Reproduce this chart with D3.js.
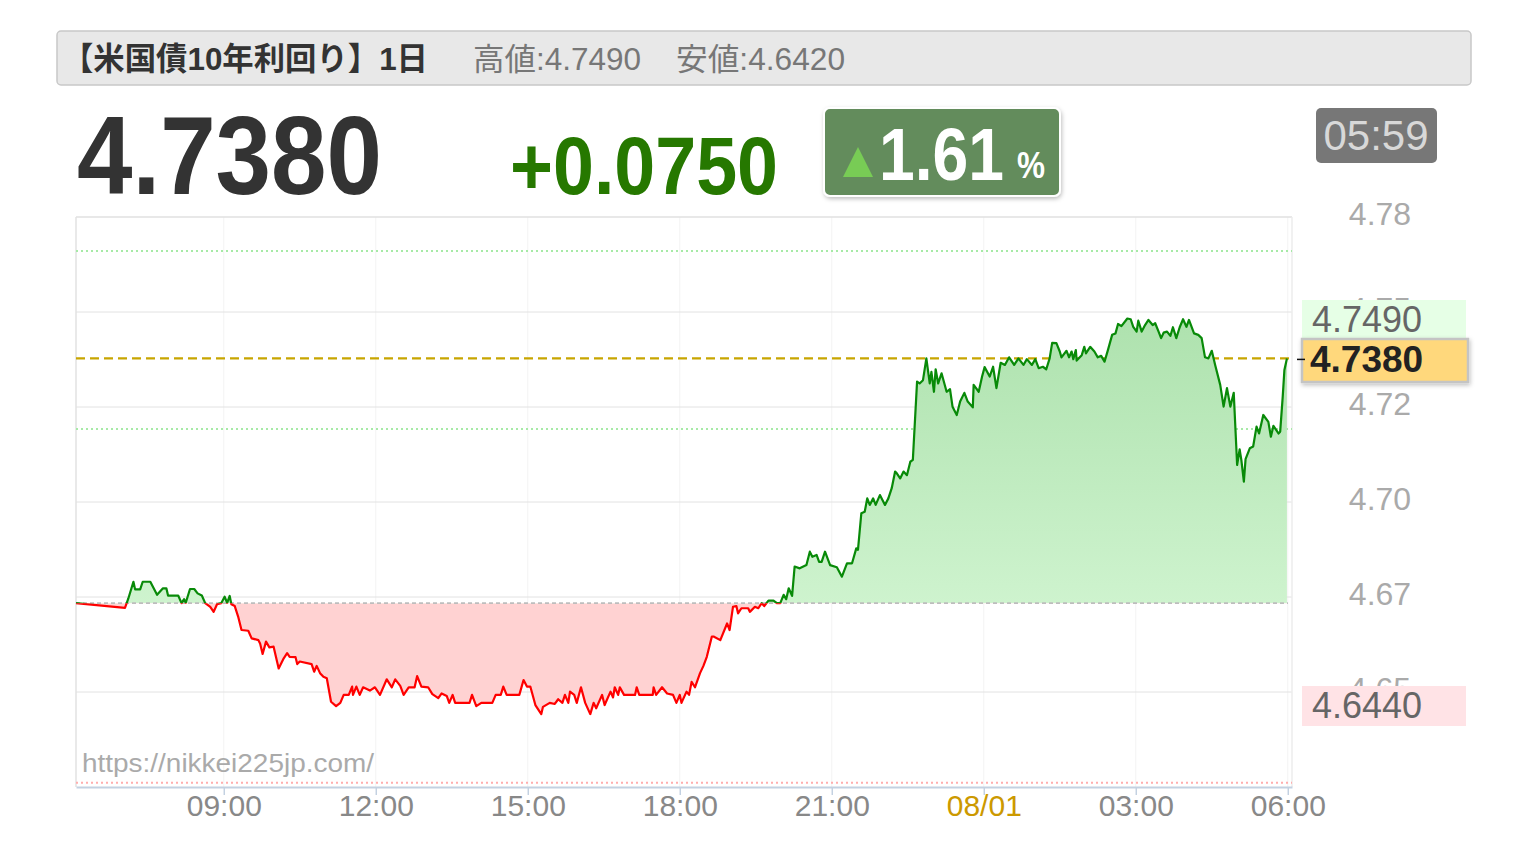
<!DOCTYPE html>
<html><head><meta charset="utf-8">
<script src="https://cdn.jsdelivr.net/npm/d3@7"></script>
<style>
body{margin:0;background:#fff;}
svg{display:block;font-family:"Liberation Sans",Arial,"Noto Sans CJK JP",sans-serif;}
</style>
</head><body>
<svg id="c" width="1528" height="848"></svg>
<script>
// ---- data ----
const titleText = "【米国債10年利回り】1日";
const highText = "高値:4.7490";
const lowText = "安値:4.6420";
const priceText = "4.7380";
const changeText = "+0.0750";
const pctText = "1.61";
const clockText = "05:59";
const highBoxText = "4.7490";
const lastBoxText = "4.7380";
const lowBoxText = "4.6440";
const watermark = "https://nikkei225jp.com/";
const lastValue = 4.7380;
const xStart = "06:05";
const xTickTimes = ["09:00","12:00","15:00","18:00","21:00","00:00","03:00","06:00"];
const xTickLabels = ["09:00","12:00","15:00","18:00","21:00","08/01","03:00","06:00"];
const yDomain = [4.6198, 4.7770];
const yTickValues = [4.7770, 4.7508, 4.7246, 4.6984, 4.6722, 4.6460];
const yTickLabels = ["4.78","4.75","4.72","4.70","4.67","4.65"];
const refGreen = [4.7676, 4.7185];
const refRed = [4.6210];
const times = ["06:05","07:03","07:07","07:13","07:15","07:21","07:24","07:33","07:41","07:48","07:52","07:54","08:06","08:10","08:13","08:15","08:20","08:25","08:29","08:34","08:38","08:44","08:48","08:52","08:57","09:01","09:04","09:07","09:09","09:13","09:17","09:21","09:29","09:33","09:41","09:43","09:46","09:50","09:54","09:59","10:05","10:11","10:15","10:18","10:25","10:27","10:30","10:44","10:47","10:50","10:54","10:58","11:02","11:07","11:13","11:18","11:22","11:28","11:32","11:33","11:37","11:41","11:45","11:53","11:59","12:05","12:13","12:19","12:23","12:29","12:33","12:39","12:46","12:49","12:54","13:02","13:07","13:14","13:18","13:24","13:27","13:31","13:34","13:51","13:54","13:59","14:05","14:18","14:22","14:28","14:31","14:35","14:50","14:55","14:59","15:03","15:09","15:16","15:18","15:26","15:32","15:36","15:41","15:44","15:48","15:50","15:55","15:58","16:03","16:08","16:14","16:18","16:21","16:28","16:31","16:38","16:41","16:43","16:47","16:49","16:54","17:07","17:09","17:12","17:28","17:29","17:32","17:39","17:45","17:52","17:56","18:00","18:02","18:08","18:11","18:14","18:18","18:24","18:28","18:32","18:38","18:40","18:48","18:56","18:59","19:03","19:07","19:09","19:13","19:21","19:23","19:29","19:33","19:37","19:40","19:45","19:51","19:55","19:59","20:03","20:06","20:09","20:13","20:16","20:22","20:30","20:34","20:37","20:42","20:45","20:48","20:52","20:58","21:06","21:12","21:18","21:24","21:29","21:31","21:35","21:39","21:42","21:45","21:49","21:52","21:57","22:03","22:07","22:11","22:15","22:17","22:21","22:25","22:29","22:33","22:36","22:41","22:44","22:48","22:52","22:56","22:58","23:01","23:03","23:06","23:10","23:16","23:20","23:23","23:28","23:32","23:37","23:41","23:47","23:48","23:54","23:58","00:01","00:07","00:11","00:15","00:20","00:25","00:30","00:36","00:41","00:47","00:51","00:57","01:01","01:05","01:10","01:14","01:18","01:21","01:26","01:30","01:32","01:38","01:41","01:44","01:46","01:49","01:50","01:56","01:59","02:01","02:06","02:11","02:15","02:19","02:23","02:27","02:32","02:36","02:39","02:43","02:50","02:54","02:57","03:01","03:03","03:07","03:11","03:15","03:20","03:23","03:27","03:30","03:33","03:37","03:41","03:44","03:48","03:52","03:56","04:00","04:03","04:09","04:14","04:18","04:22","04:26","04:30","04:34","04:40","04:44","04:48","04:52","04:56","04:59","05:00","05:03","05:05","05:08","05:10","05:15","05:19","05:23","05:26","05:31","05:37","05:40","05:43","05:49","05:51","05:54","05:56","05:59"];
const values = [4.6705,4.6692,4.6718,4.6764,4.6743,4.6743,4.6764,4.6764,4.6728,4.6746,4.6746,4.6726,4.6726,4.6705,4.6716,4.6706,4.6744,4.6744,4.6732,4.6726,4.6705,4.6695,4.6681,4.6702,4.6705,4.6723,4.6706,4.6725,4.6702,4.6697,4.6668,4.6631,4.6629,4.6608,4.6603,4.6594,4.6565,4.6599,4.6583,4.6585,4.6525,4.6553,4.6567,4.6557,4.6556,4.6537,4.6544,4.6537,4.6516,4.6532,4.6512,4.6502,4.6498,4.6433,4.6421,4.6430,4.6452,4.6452,4.6475,4.6452,4.6475,4.6452,4.6473,4.6464,4.6473,4.6452,4.6495,4.6473,4.6495,4.6477,4.6452,4.6473,4.6473,4.6504,4.6475,4.6473,4.6454,4.6443,4.6456,4.6449,4.6430,4.6452,4.6430,4.6430,4.6452,4.6421,4.6430,4.6430,4.6452,4.6452,4.6475,4.6452,4.6452,4.6493,4.6475,4.6475,4.6424,4.6399,4.6419,4.6430,4.6427,4.6440,4.6430,4.6452,4.6430,4.6461,4.6452,4.6430,4.6473,4.6430,4.6399,4.6430,4.6415,4.6452,4.6424,4.6461,4.6445,4.6473,4.6452,4.6473,4.6452,4.6452,4.6473,4.6452,4.6452,4.6473,4.6452,4.6473,4.6456,4.6452,4.6430,4.6452,4.6430,4.6461,4.6452,4.6488,4.6473,4.6512,4.6532,4.6557,4.6613,4.6613,4.6603,4.6649,4.6631,4.6695,4.6697,4.6677,4.6691,4.6691,4.6681,4.6695,4.6691,4.6705,4.6697,4.6712,4.6712,4.6705,4.6705,4.6728,4.6716,4.6746,4.6725,4.6806,4.6801,4.6810,4.6847,4.6833,4.6838,4.6819,4.6819,4.6847,4.6810,4.6804,4.6778,4.6815,4.6815,4.6856,4.6852,4.6953,4.6957,4.6994,4.6976,4.6994,4.6976,4.7003,4.6976,4.6994,4.7022,4.7068,4.7063,4.7049,4.7068,4.7058,4.7095,4.7100,4.7316,4.7311,4.7320,4.7380,4.7311,4.7343,4.7288,4.7350,4.7311,4.7339,4.7288,4.7295,4.7247,4.7224,4.7261,4.7285,4.7261,4.7245,4.7307,4.7288,4.7330,4.7356,4.7330,4.7357,4.7298,4.7368,4.7362,4.7383,4.7362,4.7380,4.7362,4.7378,4.7362,4.7378,4.7353,4.7357,4.7350,4.7380,4.7423,4.7422,4.7399,4.7383,4.7401,4.7383,4.7399,4.7378,4.7403,4.7374,4.7389,4.7412,4.7394,4.7412,4.7399,4.7383,4.7387,4.7371,4.7403,4.7445,4.7449,4.7475,4.7469,4.7490,4.7488,4.7467,4.7454,4.7484,4.7454,4.7472,4.7486,4.7472,4.7477,4.7454,4.7436,4.7451,4.7454,4.7442,4.7466,4.7436,4.7466,4.7488,4.7467,4.7486,4.7449,4.7445,4.7436,4.7383,4.7380,4.7401,4.7362,4.7307,4.7247,4.7298,4.7247,4.7285,4.7137,4.7086,4.7129,4.7100,4.7040,4.7102,4.7132,4.7137,4.7192,4.7173,4.7224,4.7205,4.7164,4.7194,4.7173,4.7178,4.7274,4.7348,4.7380];

// ---- helpers ----
const startMin = (s => +s.slice(0,2)*60 + +s.slice(3))(xStart);
function parseT(s, forceNext){
  const m = +s.slice(0,2)*60 + +s.slice(3);
  const day = (forceNext || m < startMin) ? 1 : 0;
  return new Date(2024, 6, 31 + day, Math.floor(m/60), m%60);
}
const data = times.map((t,i)=>({t:parseT(t), v:values[i]}));
const t0 = parseT(xStart), t1 = parseT(xStart, true);

const L = 76, R = 1292, T = 217, B = 787;
const x = d3.scaleTime().domain([t0,t1]).range([L,R]);
const y = d3.scaleLinear().domain(yDomain).range([B,T]);

const svg = d3.select("#c");
const defs = svg.append("defs");
const sh = defs.append("filter").attr("id","sh").attr("x","-10%").attr("y","-10%").attr("width","130%").attr("height","140%");
sh.append("feDropShadow").attr("dx",1).attr("dy",2).attr("stdDeviation",2).attr("flood-color","#000").attr("flood-opacity",0.25);

const base = values[0];
const yb = y(base);
defs.append("clipPath").attr("id","above").append("rect").attr("x",L-2).attr("y",0).attr("width",R-L+4).attr("height",yb);
defs.append("clipPath").attr("id","below").append("rect").attr("x",L-2).attr("y",yb).attr("width",R-L+4).attr("height",848-yb);
const gg = defs.append("linearGradient").attr("id","gg").attr("gradientUnits","userSpaceOnUse")
  .attr("x1",0).attr("x2",0).attr("y1",y(d3.max(values))).attr("y2",yb);
gg.append("stop").attr("offset",0).attr("stop-color","#aee2ae");
gg.append("stop").attr("offset",1).attr("stop-color","#cef3ce");

// ---- header ----
svg.append("rect").attr("x",57).attr("y",31).attr("width",1414).attr("height",54).attr("rx",4)
  .attr("fill","#e8e8e8").attr("stroke","#c8c8c8").attr("stroke-width",1.5);
svg.append("text").attr("x",62).attr("y",70).attr("font-size",32).attr("font-weight","bold")
  .attr("fill","#333").attr("textLength",366).attr("lengthAdjust","spacingAndGlyphs").text(titleText);
svg.append("text").attr("x",473).attr("y",70).attr("font-size",31).attr("fill","#777")
  .attr("textLength",168).attr("lengthAdjust","spacingAndGlyphs").text(highText);
svg.append("text").attr("x",676).attr("y",70).attr("font-size",31).attr("fill","#777")
  .attr("textLength",169).attr("lengthAdjust","spacingAndGlyphs").text(lowText);

// big price
svg.append("text").attr("x",77).attr("y",194).attr("font-size",111).attr("font-weight","bold")
  .attr("fill","#333").attr("textLength",305).attr("lengthAdjust","spacingAndGlyphs").text(priceText);
svg.append("text").attr("x",510).attr("y",194).attr("font-size",82).attr("font-weight","bold")
  .attr("fill","#267800").attr("textLength",268).attr("lengthAdjust","spacingAndGlyphs").text(changeText);
// pct box
svg.append("rect").attr("x",824).attr("y",108).attr("width",236).attr("height",88).attr("rx",6)
  .attr("fill","#638c5b").attr("stroke","#fff").attr("stroke-width",2).attr("filter","url(#sh)");
svg.append("path").attr("d","M843,177 L858,147 L873,177 Z").attr("fill","#78cc55");
svg.append("text").attr("x",879).attr("y",180).attr("font-size",75).attr("font-weight","bold")
  .attr("fill","#fff").attr("textLength",125).attr("lengthAdjust","spacingAndGlyphs").text(pctText);
svg.append("text").attr("x",1017).attr("y",178).attr("font-size",36).attr("font-weight","bold")
  .attr("fill","#fff").attr("textLength",28).attr("lengthAdjust","spacingAndGlyphs").text("%");
// clock
svg.append("rect").attr("x",1316).attr("y",108).attr("width",121).attr("height",55).attr("rx",5).attr("fill","#777");
svg.append("text").attr("x",1376).attr("y",150).attr("font-size",42).attr("text-anchor","middle")
  .attr("fill","#d8d8d8").text(clockText);

// ---- plot background grid ----
const g = svg.append("g");
const tickDates = xTickTimes.map(s=>parseT(s));
g.selectAll(".vg").data(tickDates).join("line").attr("class","vg")
  .attr("x1",d=>x(d)).attr("x2",d=>x(d)).attr("y1",T).attr("y2",B)
  .attr("stroke","#f3f3f3").attr("stroke-width",1);
g.selectAll(".hg").data(yTickValues.slice(1)).join("line").attr("class","hg")
  .attr("x1",L).attr("x2",R).attr("y1",d=>y(d)).attr("y2",d=>y(d))
  .attr("stroke","#e2e2e2").attr("stroke-width",1);
// borders
g.append("line").attr("x1",L).attr("x2",R).attr("y1",T).attr("y2",T).attr("stroke","#e0e0e0").attr("stroke-width",1.5);
g.append("line").attr("x1",L).attr("x2",L).attr("y1",T).attr("y2",B).attr("stroke","#e2e2e2").attr("stroke-width",1.5);
g.append("line").attr("x1",R).attr("x2",R).attr("y1",T).attr("y2",B).attr("stroke","#ececec").attr("stroke-width",1.5);
// reference dotted lines
g.selectAll(".rg").data(refGreen).join("line").attr("class","rg")
  .attr("x1",L).attr("x2",R).attr("y1",d=>y(d)).attr("y2",d=>y(d))
  .attr("stroke","#a6eaa6").attr("stroke-width",2).attr("stroke-dasharray","2,3");
g.selectAll(".rr").data(refRed).join("line").attr("class","rr")
  .attr("x1",L).attr("x2",R).attr("y1",d=>y(d)).attr("y2",d=>y(d))
  .attr("stroke","#ffadad").attr("stroke-width",2).attr("stroke-dasharray","2,3");
// last price dashed
g.append("line").attr("x1",L).attr("x2",R).attr("y1",y(lastValue)).attr("y2",y(lastValue))
  .attr("stroke","#c8a500").attr("stroke-width",2.2).attr("stroke-dasharray","9,5");

// ---- areas ----
const area = d3.area().x(d=>x(d.t)).y0(yb).y1(d=>y(d.v));
const line = d3.line().x(d=>x(d.t)).y(d=>y(d.v));
g.append("path").datum(data).attr("d",area).attr("fill","url(#gg)").attr("clip-path","url(#above)");
g.append("path").datum(data).attr("d",area).attr("fill","#ffd2d2").attr("clip-path","url(#below)");
// baseline
g.append("line").attr("x1",L).attr("x2",R-4).attr("y1",yb).attr("y2",yb)
  .attr("stroke","#bdbdbd").attr("stroke-width",1.8).attr("stroke-dasharray","4,3");
g.append("path").datum(data).attr("d",line).attr("fill","none").attr("stroke","#088a08")
  .attr("stroke-width",2.2).attr("stroke-linejoin","round").attr("clip-path","url(#above)");
g.append("path").datum(data).attr("d",line).attr("fill","none").attr("stroke","#ff0000")
  .attr("stroke-width",2.2).attr("stroke-linejoin","round").attr("clip-path","url(#below)");

// ---- x axis ----
const xa = svg.append("g").attr("transform",`translate(0,${B})`)
  .call(d3.axisBottom(x).tickValues(tickDates).tickFormat((d,i)=>xTickLabels[i]).tickSize(8).tickSizeOuter(0));
xa.select(".domain").attr("stroke","#c3d1e1").attr("stroke-width",2);
xa.selectAll(".tick line").attr("stroke","#c3d1e1").attr("stroke-width",1.5);
xa.selectAll(".tick text").attr("font-size",30).attr("font-family","'Liberation Sans',Arial,sans-serif")
  .attr("y",29).attr("dy",0).attr("fill",(d,i)=>xTickLabels[i]==="08/01"?"#cc9900":"#888");

// ---- y axis labels ----
const ya = svg.append("g").attr("transform","translate(1380,0)")
  .call(d3.axisRight(y).tickValues(yTickValues).tickFormat((d,i)=>yTickLabels[i]).tickSize(0));
ya.select(".domain").remove();
ya.selectAll(".tick text").attr("x",0).attr("dy",0).attr("y",7).attr("text-anchor","middle")
  .attr("font-size",32).attr("font-family","'Liberation Sans',Arial,sans-serif").attr("fill","#aaa");

// ---- right value boxes ----
svg.append("rect").attr("x",1302).attr("y",300).attr("width",164).attr("height",39).attr("fill","#e6ffe6");
svg.append("text").attr("x",1312).attr("y",332).attr("font-size",36).attr("fill","#666").text(highBoxText);
svg.append("rect").attr("x",1302).attr("y",686).attr("width",164).attr("height",40).attr("fill","#ffe3e6");
svg.append("text").attr("x",1312).attr("y",718).attr("font-size",36).attr("fill","#666").text(lowBoxText);
svg.append("rect").attr("x",1302).attr("y",339).attr("width",166).attr("height",43)
  .attr("fill","#ffd87c").attr("stroke","#c4c4c4").attr("stroke-width",2.5).attr("filter","url(#sh)");
svg.append("text").attr("x",1310).attr("y",372).attr("font-size",37).attr("font-weight","bold").attr("fill","#222").text(lastBoxText);
svg.append("line").attr("x1",1297).attr("x2",1305).attr("y1",y(lastValue)+1).attr("y2",y(lastValue)+1)
  .attr("stroke","#111").attr("stroke-width",1.5);

// watermark
svg.append("text").attr("x",82).attr("y",772).attr("font-size",26).attr("fill","#aaa")
  .attr("textLength",292).attr("lengthAdjust","spacingAndGlyphs").text(watermark);
</script>
</body></html>
